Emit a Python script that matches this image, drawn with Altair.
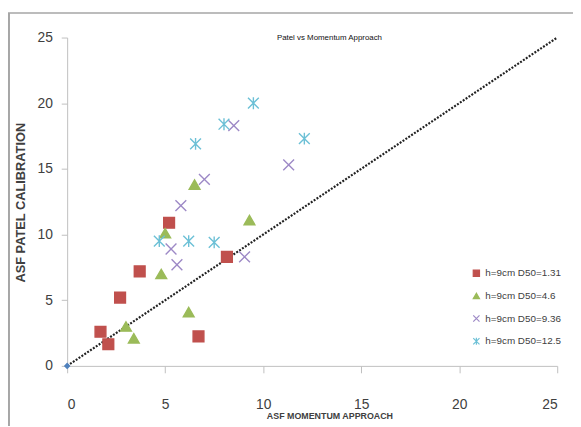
import altair as alt
import pandas as pd

# ---- data ----
series_names = ["h=9cm D50=1.31", "h=9cm D50=4.6", "h=9cm D50=9.36", "h=9cm D50=12.5"]
s1_x = [1.7, 2.1, 2.7, 3.7, 5.2, 8.15, 6.7]
s1_y = [2.6, 1.65, 5.2, 7.2, 10.9, 8.3, 2.25]
s2_x = [3.0, 3.4, 4.8, 5.0, 6.5, 9.3, 6.2]
s2_y = [3.0, 2.1, 7.0, 10.1, 13.8, 11.1, 4.1]
s3_x = [5.8, 7.0, 5.3, 5.6, 9.05, 11.3, 8.5]
s3_y = [12.2, 14.2, 8.9, 7.7, 8.3, 15.3, 18.3]
s4_x = [9.5, 8.0, 6.55, 12.1, 4.7, 6.2, 7.5]
s4_y = [20.0, 18.4, 16.9, 17.3, 9.5, 9.5, 9.4]
origin_x = [0]
origin_y = [0]
line_x = [0, 25]
line_y = [0, 25]
axis_ticks = [0, 5, 10, 15, 20, 25]
series_colors = ["#C0504D", "#9BBB59", "#9D89C6", "#6CC0D6"]

rows = []
for name, xs, ys in zip(series_names, [s1_x, s2_x, s3_x, s4_x], [s1_y, s2_y, s3_y, s4_y]):
    for a, b in zip(xs, ys):
        rows.append({"series": name, "x": a, "y": b})
pts = pd.DataFrame(rows)
line_df = pd.DataFrame({"x": line_x, "y": line_y})
origin_df = pd.DataFrame({"x": origin_x, "y": origin_y})

X_PATH = "M-1,-1L1,1M-1,1L1,-1"
STAR_PATH = "M-1,-1L1,1M-1,1L1,-1M0,-1.1L0,1.1"

FONT = "Liberation Sans"
GRAY = "#404040"

xscale = alt.Scale(domain=[0, 25], nice=False)
yscale = alt.Scale(domain=[0, 25], nice=False)

x_axis = alt.Axis(values=axis_ticks, grid=False, domainColor="#bfbfbf", tickColor="#bfbfbf",
                  tickSize=7, labelFontSize=14, labelFont=FONT, labelColor=GRAY,
                  labelPadding=25, title="ASF MOMENTUM APPROACH", titleFontSize=9,
                  titleFont=FONT, titleFontWeight="bold", titleColor=GRAY,
                  titleX=266, titleY=50, titleBaseline="middle", titleAnchor="middle")
y_axis = alt.Axis(values=axis_ticks, grid=False, domainColor="#bfbfbf", tickColor="#bfbfbf",
                  tickSize=6, labelFontSize=14, labelFont=FONT, labelColor=GRAY,
                  labelPadding=9, title="ASF PATEL CALIBRATION", titleFontSize=13,
                  titleFont=FONT, titleFontWeight="bold", titleColor=GRAY,
                  titleX=-47, titleY=167, titleBaseline="middle", titleAnchor="middle")

base_line = alt.Chart(line_df).mark_line(color="#222222", strokeWidth=2.2, strokeDash=[2, 1.5]).encode(
    x=alt.X("x:Q", scale=xscale, axis=x_axis),
    y=alt.Y("y:Q", scale=yscale, axis=y_axis),
)

origin = alt.Chart(origin_df).mark_point(shape="diamond", filled=True, color="#4F81BD", size=45, opacity=1).encode(
    x=alt.X("x:Q", scale=xscale),
    y=alt.Y("y:Q", scale=yscale),
)

legend = alt.Legend(title=None, orient="none", legendX=410, legendY=234, padding=0,
                    labelFont=FONT, labelFontSize=10, labelColor=GRAY,
                    symbolSize=40, rowPadding=11, symbolStrokeWidth=1.2)

points = alt.Chart(pts).mark_point(filled=True, opacity=1, strokeWidth=1.4, size=120).encode(
    x=alt.X("x:Q", scale=xscale),
    y=alt.Y("y:Q", scale=yscale),
    color=alt.Color("series:N", scale=alt.Scale(domain=series_names, range=series_colors),
                    legend=legend),
    shape=alt.Shape("series:N", scale=alt.Scale(domain=series_names,
                    range=["square", "triangle-up", X_PATH, STAR_PATH]), legend=legend),
    stroke=alt.Stroke("series:N", scale=alt.Scale(domain=series_names, range=series_colors),
                      legend=legend),
)

title_text = alt.Chart(pd.DataFrame({"t": ["Patel vs Momentum Approach"]})).mark_text(
    font=FONT, fontSize=8, color="#111111", baseline="middle", align="center"
).encode(text="t:N", x=alt.value(266), y=alt.value(0))

border_left = alt.Chart(origin_df).mark_rule(color="#a6a6a6", strokeWidth=2).encode(
    x=alt.value(-59), y=alt.value(-25), y2=alt.value(400))
border_top = alt.Chart(origin_df).mark_rule(color="#a6a6a6", strokeWidth=1.5).encode(
    x=alt.value(-60), x2=alt.value(520), y=alt.value(-25))

chart = alt.layer(border_left, border_top, base_line, points, origin, title_text).properties(
    width=497, height=333,
    autosize=alt.AutoSizeParams(type="none"),
    padding={"left": 60, "top": 27, "right": 16, "bottom": 58},
    background="white",
).configure_view(stroke=None)

chart.save("out.html", embed_options={"renderer": "svg", "actions": False})
